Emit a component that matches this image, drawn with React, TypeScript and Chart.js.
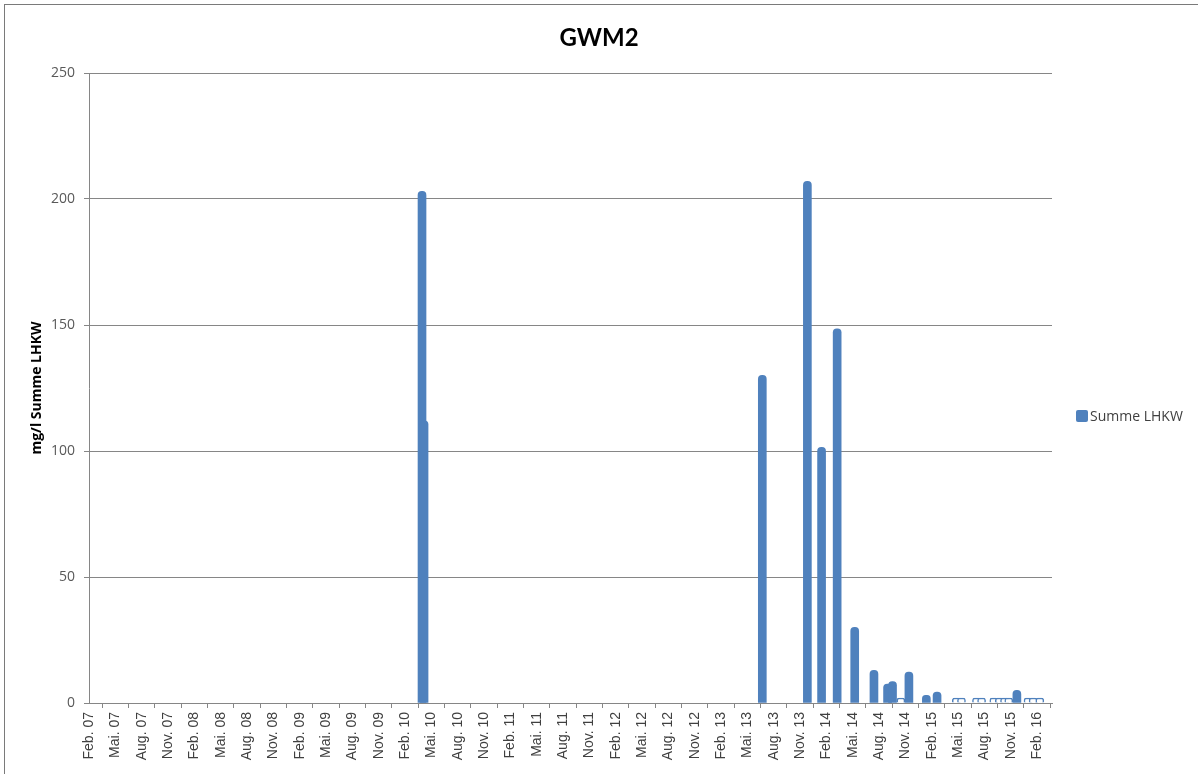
import React, { useEffect, useRef } from 'react';
import { Chart, registerables } from 'chart.js';

Chart.register(...registerables);

// ---- data ----
const chartTitle = 'GWM2';
const seriesName = 'Summe LHKW';
const yAxisTitle = 'mg/l Summe LHKW';

const sampleDates = [
  '2010-03-30', '2010-04-06',
  '2013-06-22', '2013-11-26', '2014-01-15', '2014-03-08', '2014-05-08',
  '2014-07-14', '2014-08-31', '2014-09-17', '2014-10-16', '2014-11-13',
  '2015-01-13', '2015-02-18', '2015-04-25', '2015-05-13', '2015-07-04',
  '2015-07-22', '2015-09-03', '2015-09-22', '2015-10-10', '2015-10-25',
  '2015-11-22', '2015-12-31', '2016-01-18', '2016-02-10',
];

const lhkwValues = [
  203, 112,
  130, 207, 101.5, 148.5, 30,
  13, 7.5, 8.5, 2, 12.3,
  3, 4.3, 2, 2, 2,
  2, 2, 2, 2, 2,
  5, 2, 2, 2,
];

const tickLabels = [
  'Feb. 07', 'Mai. 07', 'Aug. 07', 'Nov. 07',
  'Feb. 08', 'Mai. 08', 'Aug. 08', 'Nov. 08',
  'Feb. 09', 'Mai. 09', 'Aug. 09', 'Nov. 09',
  'Feb. 10', 'Mai. 10', 'Aug. 10', 'Nov. 10',
  'Feb. 11', 'Mai. 11', 'Aug. 11', 'Nov. 11',
  'Feb. 12', 'Mai. 12', 'Aug. 12', 'Nov. 12',
  'Feb. 13', 'Mai. 13', 'Aug. 13', 'Nov. 13',
  'Feb. 14', 'Mai. 14', 'Aug. 14', 'Nov. 14',
  'Feb. 15', 'Mai. 15', 'Aug. 15', 'Nov. 15',
  'Feb. 16',
];

const axisStart = { year: 2007, month: 2 }; // Feb. 07
const axisEndMonths = 109.7; // end of date axis, months after Feb. 07
const yMin = 0;
const yMax = 250;
const yStep = 50;

// ---- helpers ----
const BLUE = '#4f81bd';
const GRID = '#868686';

function monthsSinceStart(iso: string): number {
  const [y, m, d] = iso.split('-').map(Number);
  const dim = new Date(y, m, 0).getDate();
  return (y - axisStart.year) * 12 + (m - axisStart.month) + (d - 1) / dim;
}

const isTrace = (v: number) => v <= 2;

const sideLegend = {
  id: 'sideLegend',
  afterDraw(chart: any) {
    const { ctx, chartArea } = chart;
    const x = chartArea.right + 24;
    const y = (chartArea.top + chartArea.bottom) / 2 + 28;
    ctx.save();
    ctx.fillStyle = BLUE;
    ctx.beginPath();
    if ((ctx as any).roundRect) (ctx as any).roundRect(x, y - 6, 12, 12, 2);
    else ctx.rect(x, y - 6, 12, 12);
    ctx.fill();
    ctx.fillStyle = '#404040';
    ctx.font = '14px "Open Sans"';
    ctx.textBaseline = 'middle';
    ctx.textAlign = 'left';
    ctx.fillText(seriesName, x + 14, y + 1);
    ctx.restore();
  },
};

export default function App() {
  const canvasRef = useRef<HTMLCanvasElement | null>(null);

  useEffect(() => {
    if (!canvasRef.current) return;
    const points = sampleDates.map((d, i) => ({ x: monthsSinceStart(d), y: lhkwValues[i] }));
    const chart = new Chart(canvasRef.current, {
      type: 'bar',
      data: {
        datasets: [
          {
            label: seriesName,
            data: points as any,
            backgroundColor: lhkwValues.map((v) => (isTrace(v) ? '#ffffff' : BLUE)),
            borderColor: BLUE,
            borderWidth: lhkwValues.map((v) => (isTrace(v) ? 1.5 : 0)),
            borderSkipped: 'bottom',
            borderRadius: { topLeft: 4, topRight: 4, bottomLeft: 0, bottomRight: 0 },
            barThickness: 8,
          },
        ],
      },
      plugins: [sideLegend],
      options: {
        responsive: false,
        animation: false,
        layout: { padding: 0 },
        plugins: {
          legend: { display: false },
          tooltip: { enabled: false },
          title: {
            display: true,
            text: chartTitle,
            color: '#000000',
            font: { family: 'Lato', size: 24, weight: 'bold' },
            padding: { top: 24, bottom: 20.2 },
          },
        },
        scales: {
          x: {
            type: 'linear',
            min: 0,
            max: axisEndMonths,
            offset: false,
            grid: {
              drawOnChartArea: false,
              drawTicks: true,
              tickLength: 5,
              color: GRID,
            },
            border: { display: true, color: GRID, width: 1 },
            ticks: {
              stepSize: 3,
              includeBounds: false,
              autoSkip: false,
              maxRotation: 90,
              minRotation: 90,
              padding: 4,
              color: '#404040',
              font: { family: '"Liberation Sans"', size: 14 },
              callback: (value: any) => {
                const idx = Math.round(Number(value) / 3);
                return tickLabels[idx] ?? '';
              },
            },
            afterBuildTicks: (scale: any) => {
              scale.ticks = scale.ticks.filter(
                (t: any) => Math.abs(t.value / 3 - Math.round(t.value / 3)) < 1e-6 && t.value <= 108 + 1e-6
              );
            },
            afterFit: (scale: any) => {
              scale.height = 71;
            },
          },
          y: {
            min: yMin,
            max: yMax,
            grid: {
              color: GRID,
              drawTicks: true,
              tickLength: 5,
            },
            border: { display: true, color: GRID, width: 1 },
            ticks: {
              stepSize: yStep,
              padding: 9,
              color: '#595959',
              font: { family: '"Open Sans"', size: 14 },
            },
            title: {
              display: true,
              text: yAxisTitle,
              color: '#000000',
              font: { family: '"Open Sans"', size: 14, weight: 'bold' },
              padding: { top: 29, bottom: 0 },
            },
            afterFit: (scale: any) => {
              scale.width = 89;
            },
          },
          legendSpace: {
            type: 'linear',
            position: 'right',
            display: true,
            grid: { display: false, drawOnChartArea: false, drawTicks: false },
            border: { display: false },
            ticks: { display: false },
            afterFit: (scale: any) => {
              scale.width = 146;
            },
          },
        },
      },
    });
    return () => chart.destroy();
  }, []);

  return (
    <div
      style={{
        position: 'fixed',
        left: 0,
        top: 0,
        width: 1198,
        height: 774,
        background: '#ffffff',
        overflow: 'hidden',
      }}
    >
      <div
        style={{
          position: 'absolute',
          left: 4,
          top: 4,
          width: 1194,
          height: 770,
          borderTop: '1px solid #7a7a7a',
          borderLeft: '1px solid #7a7a7a',
          boxSizing: 'border-box',
        }}
      />
      <canvas
        ref={canvasRef}
        width={1198}
        height={774}
        style={{ position: 'absolute', left: 0, top: 0, width: 1198, height: 774 }}
      />
    </div>
  );
}
